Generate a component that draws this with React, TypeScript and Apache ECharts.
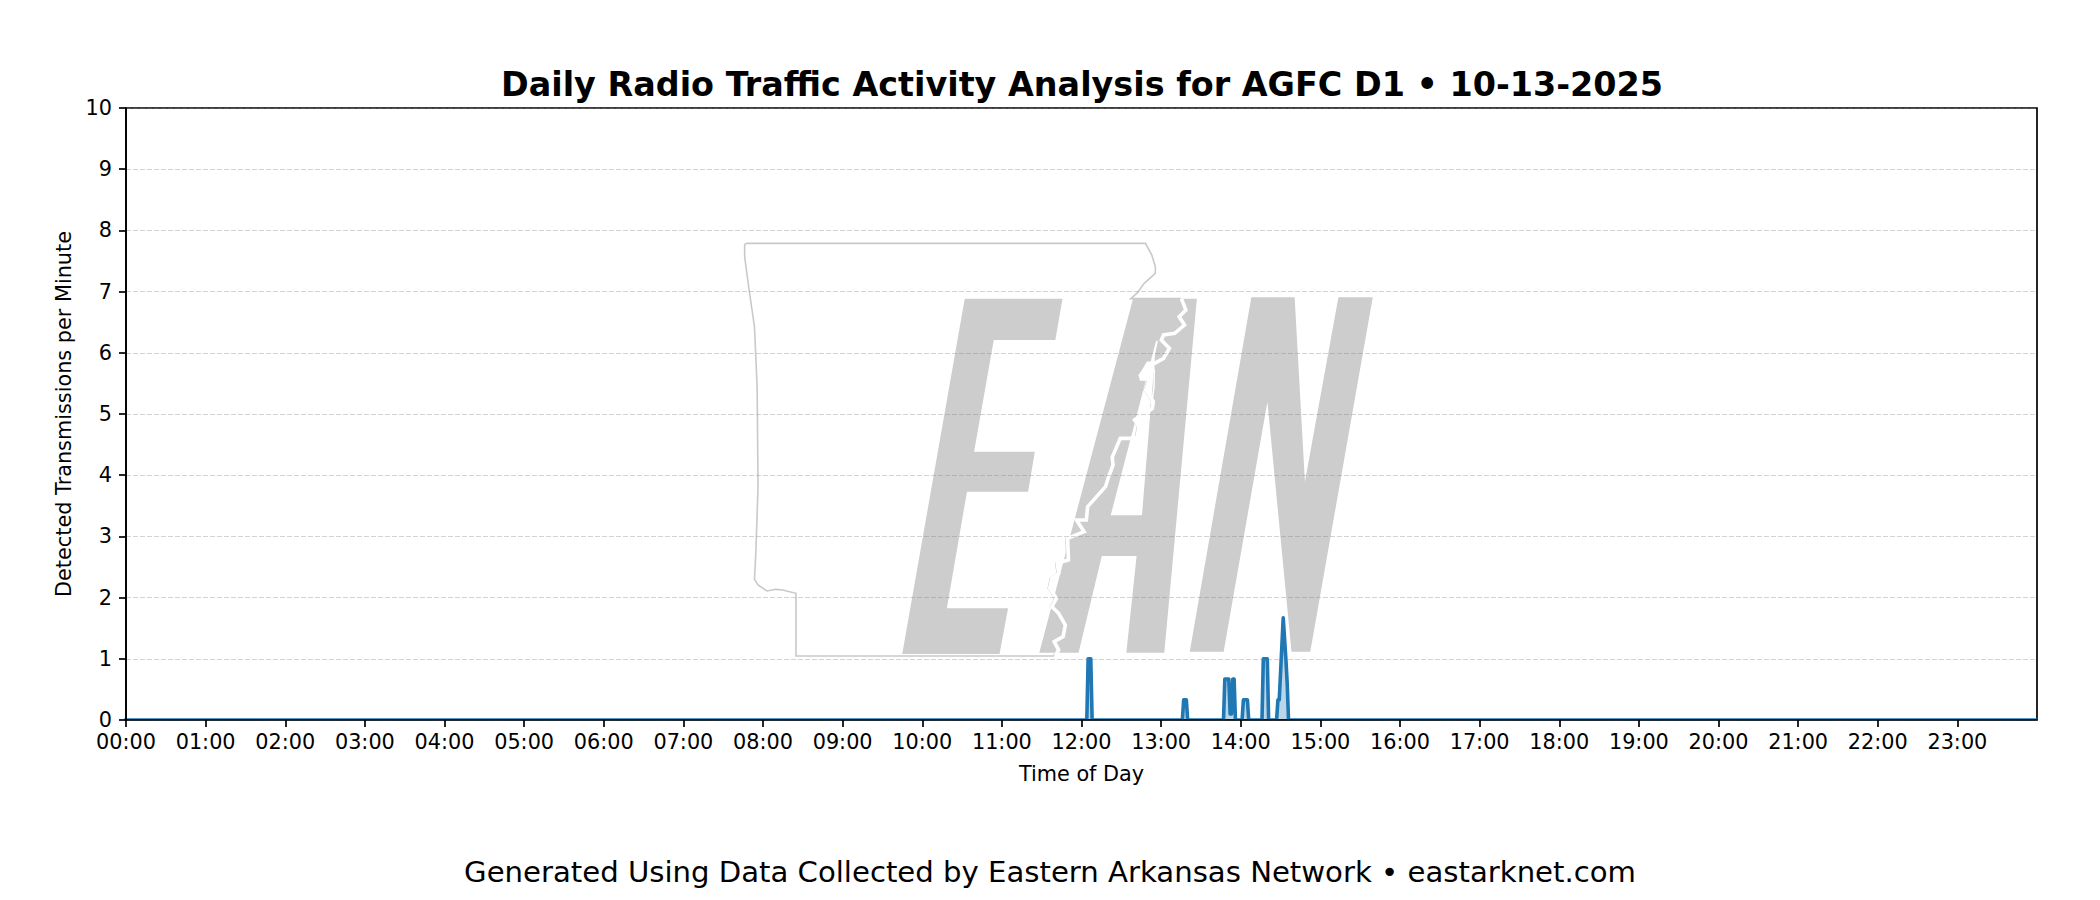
import React, { useEffect, useRef } from "react";
import * as echarts from "echarts";

const titleText = "Daily Radio Traffic Activity Analysis for AGFC D1 • 10-13-2025";
const footerText = "Generated Using Data Collected by Eastern Arkansas Network • eastarknet.com";
const xAxisName = "Time of Day";
const yAxisName = "Detected Transmissions per Minute";

const hourTicks = [0, 60, 120, 180, 240, 300, 360, 420, 480, 540, 600, 660, 720, 780, 840, 900, 960, 1020, 1080, 1140, 1200, 1260, 1320, 1380];

// minute of day, transmissions per minute
const minutes = [0, 724, 725, 727, 728, 796, 797, 799, 800, 827, 828, 831, 832, 833, 834, 835, 836, 841, 842, 845, 846, 856, 857, 860, 861, 867, 868, 869, 872, 874, 875, 876, 1439];
const values = [0, 0, 1, 1, 0, 0, 0.33, 0.33, 0, 0, 0.67, 0.67, 0.1, 0.1, 0.67, 0.67, 0, 0, 0.33, 0.33, 0, 0, 1, 1, 0, 0, 0.33, 0.33, 1.67, 1, 0.6, 0, 0];

// Watermark logo outlines, in crop units of the logo picture
const letterE = [[593, 236], [812, 236], [796, 360], [658, 360], [614, 695], [750, 695], [735, 815], [598, 815], [553, 1165], [690, 1165], [671, 1302], [453, 1302]];
const letterA = [[970, 236], [1113, 236], [1040, 1298], [955, 1298], [978, 1008], [900, 1008], [848, 1298], [760, 1298], [920, 886], [990, 886], [1022, 360], [920, 886], [760, 1298]];
const letterN = [[1235, 232], [1332, 232], [1355, 785], [1430, 232], [1507, 232], [1367, 1295], [1325, 1295], [1271, 545], [1173, 1295], [1097, 1295]];
const riverBorder = [[1075, 236], [1085, 270], [1070, 290], [1082, 315], [1060, 340], [1035, 345], [1030, 360], [1048, 385], [1035, 415], [1015, 430], [1000, 430], [985, 465], [1003, 480], [995, 510], [1012, 545], [1010, 565], [985, 585], [970, 600], [980, 620], [975, 655], [938, 655], [920, 712], [922, 735], [912, 770], [905, 800], [865, 860], [862, 900], [840, 900], [857, 935], [820, 955], [822, 1020], [797, 1030], [800, 1060], [785, 1075], [780, 1105], [795, 1135], [785, 1160], [800, 1180], [815, 1215], [810, 1250], [790, 1265], [800, 1290], [792, 1308]];
const stateBorder = [[103, 70], [998, 70], [1012, 105], [1020, 140], [1020, 160], [995, 190], [980, 218], [965, 236], [1075, 236], ...riverBorder, [215, 1308], [215, 1120], [185, 1110], [170, 1108], [150, 1113], [130, 1095], [122, 1078], [125, 1000], [130, 800], [128, 500], [122, 320], [110, 210], [100, 110], [100, 75], [103, 70]];
// River details, in crop units of a second, unstretched crop of the logo
const riverPool = [[440, 282], [462, 275], [464, 298], [445, 332], [420, 332], [415, 315]];
const riverChannelA = [[472, 212], [462, 255], [455, 280]];
const riverChannelB = [[463, 300], [462, 350], [458, 380], [455, 420], [430, 435]];

const toPage = (pts: number[][], dx = 0) => pts.map(([x, y]) => [700 + x / 2.24 + dx, 220 + y / 3]);
const detailToPage = (pts: number[][]) => pts.map(([x, y]) => [1000 + x / 3, 270 + y / 3]);
const pad = (n: number) => String(n).padStart(2, "0");
const FONT = "'DejaVu Sans', sans-serif";

export default function App() {
  const ref = useRef<HTMLDivElement>(null);
  useEffect(() => {
    document.body.style.margin = "0";
    const chart = echarts.init(ref.current!, undefined, { renderer: "svg" });
    const grey = "#cdcdcd";
    chart.setOption({
      animation: false,
      backgroundColor: "#fff",
      title: [
        { text: titleText, left: 1077, top: 63, textAlign: "center", textStyle: { fontFamily: FONT, fontSize: 33.4, fontWeight: "bold", color: "#000" } },
        { text: footerText, left: 1045, top: 852, textAlign: "center", textStyle: { fontFamily: FONT, fontSize: 29.15, fontWeight: "normal", color: "#000" } },
      ],
      grid: { left: 126, top: 108, width: 1911, height: 612, show: true, borderColor: "#000", borderWidth: 1.7, backgroundColor: "transparent" },
      xAxis: {
        type: "value", min: 0, max: 1440, name: xAxisName, nameLocation: "middle", nameGap: 43, z: 10,
        nameTextStyle: { fontFamily: FONT, fontSize: 20.8, color: "#000" },
        axisLine: { show: true, lineStyle: { color: "#000", width: 1.7 } },
        axisTick: { show: true, length: 7, lineStyle: { color: "#000", width: 1.7 }, customValues: hourTicks },
        axisLabel: { color: "#000", fontFamily: FONT, fontSize: 20.8, margin: 11, customValues: hourTicks, formatter: (v: number) => `${pad(Math.floor(v / 60))}:00` },
        splitLine: { show: false },
      },
      yAxis: {
        type: "value", min: 0, max: 10, interval: 1, name: yAxisName, nameLocation: "middle", nameGap: 45, z: 10,
        nameTextStyle: { fontFamily: FONT, fontSize: 20.8, color: "#000" },
        axisLine: { show: true, lineStyle: { color: "#000", width: 1.7 } },
        axisTick: { show: true, length: 7, lineStyle: { color: "#000", width: 1.7 } },
        axisLabel: { color: "#000", fontFamily: FONT, fontSize: 20.8, margin: 14 },
        splitLine: { show: true, lineStyle: { color: "rgba(128,128,128,0.35)", width: 1, type: [5, 2] } },
      },
      graphic: [
        { type: "polyline", z: -10, shape: { points: toPage(stateBorder) }, style: { stroke: "#c9c9c9", lineWidth: 1.6, fill: "none" } },
        { type: "polygon", z: -9, shape: { points: toPage(letterE) }, style: { fill: grey } },
        { type: "polygon", z: -9, shape: { points: toPage(letterA) }, style: { fill: grey } },
        { type: "polygon", z: -9, shape: { points: toPage(letterN) }, style: { fill: grey } },
        { type: "polyline", z: -8, shape: { points: toPage(riverBorder, 1.5) }, style: { stroke: "#fff", lineWidth: 3.6, fill: "none" } },
        { type: "polygon", z: -8, shape: { points: detailToPage(riverPool) }, style: { fill: "#fff" } },
        { type: "polyline", z: -8, shape: { points: detailToPage(riverChannelA) }, style: { stroke: "#fff", lineWidth: 1.5, fill: "none" } },
        { type: "polyline", z: -8, shape: { points: detailToPage(riverChannelB) }, style: { stroke: "#fff", lineWidth: 1.5, fill: "none" } },
        // hides the half of the zero line that ECharts lets run below the axis
        { type: "rect", z: 7, shape: { x: 118, y: 720.6, width: 1930, height: 3.5 }, style: { fill: "#fff" } },
      ],
      series: [{
        type: "line", data: minutes.map((m, i) => [m, values[i]]), showSymbol: false, smooth: false,
        lineStyle: { color: "#1f77b4", width: 3.6, join: "round", cap: "square" },
        itemStyle: { color: "#1f77b4" },
        areaStyle: { color: "#1f77b4", opacity: 0.3 },
        z: 5,
      }],
    });
    return () => chart.dispose();
  }, []);
  return <div ref={ref} style={{ position: "fixed", left: 0, top: 0, width: 2100, height: 900 }} />;
}
